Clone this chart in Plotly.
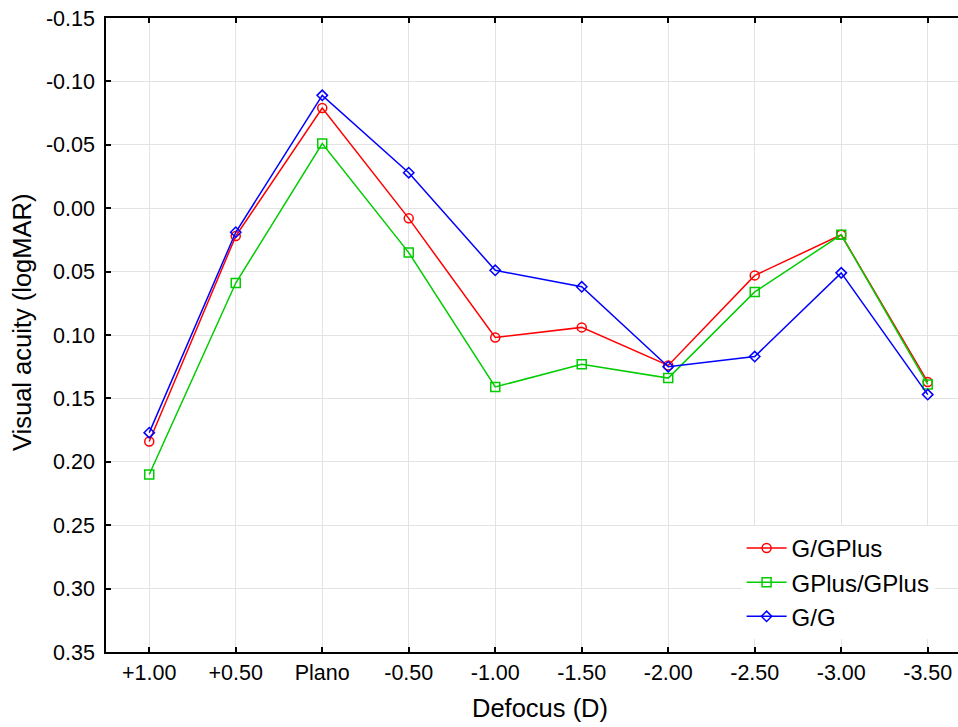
import plotly.graph_objects as go

categories = ["+1.00", "+0.50", "Plano", "-0.50", "-1.00", "-1.50", "-2.00", "-2.50", "-3.00", "-3.50"]
g_gplus = [0.184, 0.022, -0.079, 0.008, 0.102, 0.094, 0.124, 0.053, 0.021, 0.137]
gplus_gplus = [0.210, 0.059, -0.051, 0.035, 0.141, 0.123, 0.134, 0.066, 0.021, 0.139]
g_g = [0.177, 0.019, -0.089, -0.028, 0.049, 0.062, 0.125, 0.117, 0.051, 0.147]

y_tickvals = [-0.15, -0.10, -0.05, 0.00, 0.05, 0.10, 0.15, 0.20, 0.25, 0.30, 0.35]
y_ticktext = ["-0.15", "-0.10", "-0.05", "0.00", "0.05", "0.10", "0.15", "0.20", "0.25", "0.30", "0.35"]

xidx = list(range(len(categories)))
FONT = "Liberation Sans, Arial, sans-serif"

fig = go.Figure()
series = [
    ("G/GPlus", g_gplus, "#ff0000", "circle-open", 9),
    ("GPlus/GPlus", gplus_gplus, "#00cc00", "square-open", 9),
    ("G/G", g_g, "#0000ff", "diamond-open", 8),
]
for name, vals, col, sym, sz in series:
    fig.add_trace(go.Scatter(
        x=xidx, y=vals, name=name, mode="lines+markers",
        line=dict(color=col, width=1.5),
        marker=dict(symbol=sym, size=sz, color=col, line=dict(color=col, width=1.5)),
    ))

fig.update_layout(
    width=958, height=727,
    margin=dict(l=106, r=0, t=18, b=75),
    paper_bgcolor="white", plot_bgcolor="white",
    font=dict(family=FONT, size=21, color="black"),
    showlegend=True,
    legend=dict(
        x=0.746, y=0.199, xanchor="left", yanchor="top",
        bgcolor="white", borderwidth=0,
        font=dict(size=24, family=FONT, color="black"),
        itemwidth=40, tracegroupgap=0,
    ),
    annotations=[
        dict(text="Defocus (D)", xref="paper", yref="paper", x=(540 - 106) / 852, y=-(708 - 652) / 634,
             xanchor="center", yanchor="middle", showarrow=False, font=dict(size=25.5, family=FONT)),
        dict(text="Visual acuity (logMAR)", xref="paper", yref="paper", x=-(106 - 22) / 852, y=(652 - 323) / 634,
             xanchor="center", yanchor="middle", showarrow=False, textangle=-90, font=dict(size=25.5, family=FONT)),
    ],
)
fig.update_xaxes(
    range=[-0.5, 9.35], tickvals=xidx, ticktext=categories,
    showgrid=True, gridcolor="#e3e3e3", gridwidth=1,
    showline=True, linecolor="black", linewidth=1.5, mirror="ticks",
    ticks="inside", ticklen=5, tickcolor="black", tickwidth=1.5,
    zeroline=False, tickfont=dict(size=21.5),
)
fig.update_yaxes(
    range=[0.35, -0.15], tickvals=y_tickvals, ticktext=y_ticktext,
    showgrid=True, gridcolor="#e3e3e3", gridwidth=1,
    showline=True, linecolor="black", linewidth=1.5, mirror=False,
    ticks="inside", ticklen=5, tickcolor="black", tickwidth=1.5,
    zeroline=False, tickfont=dict(size=21.5), ticklabelstandoff=5,
)
fig.write_html("out.html")
